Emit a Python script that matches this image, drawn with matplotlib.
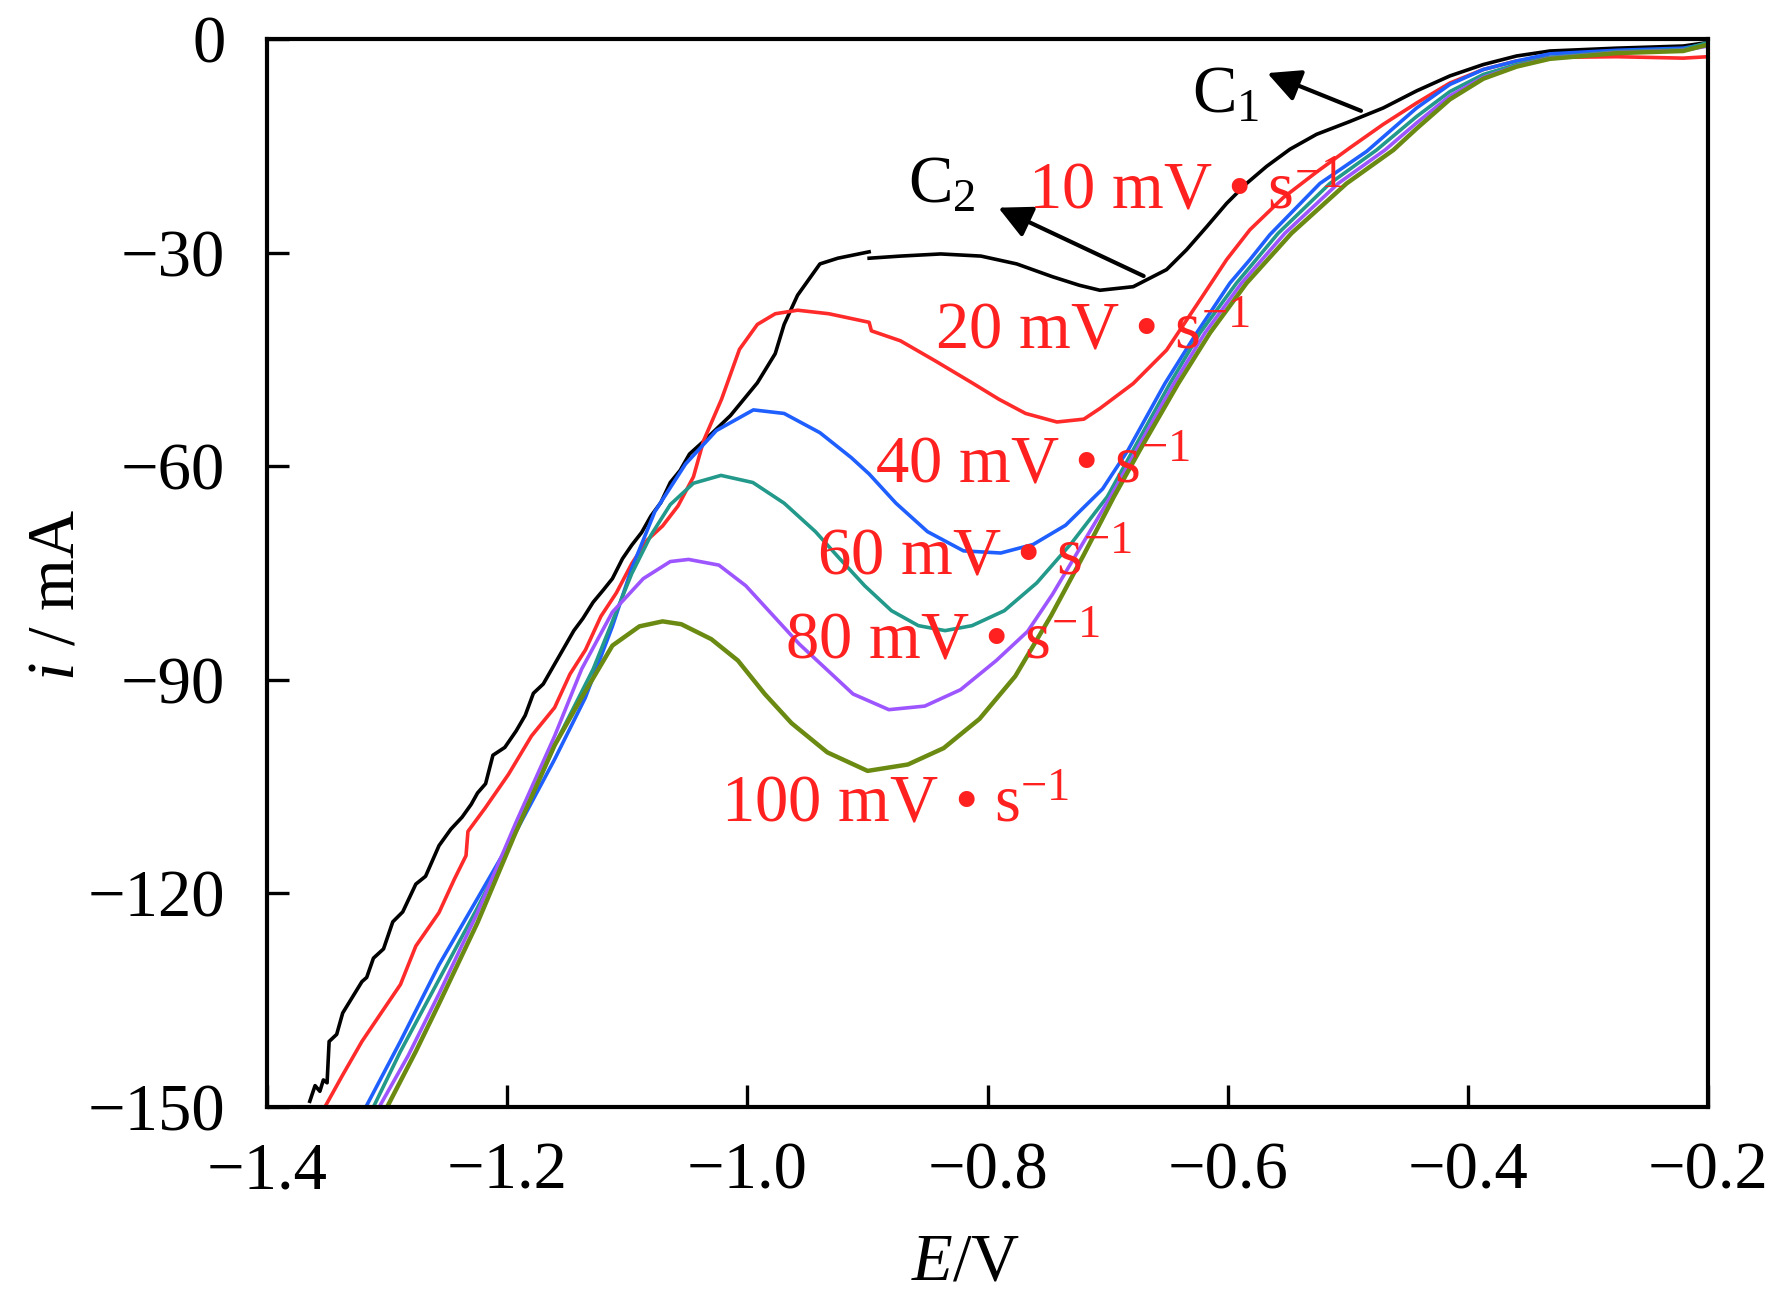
import matplotlib
matplotlib.use("Agg")
import matplotlib.pyplot as plt

plt.rcParams['font.family'] = ['Liberation Serif', 'DejaVu Serif']
plt.rcParams['mathtext.fontset'] = 'custom'
plt.rcParams['mathtext.rm'] = 'Liberation Serif'
plt.rcParams['mathtext.it'] = 'Liberation Serif:italic'
plt.rcParams['mathtext.bf'] = 'Liberation Serif:bold'

# ---------------- data ----------------
# 10 mV/s (black), drawn in two pieces (small break in the record)
E_10a = [-1.3644, -1.3600, -1.3560, -1.3531, -1.3500, -1.3483, -1.3420, -1.3370, -1.3290,
         -1.3210, -1.3170, -1.3114, -1.3030, -1.2953, -1.2870, -1.2761, -1.2680, -1.2568,
         -1.2470, -1.2376, -1.2300, -1.2247, -1.2180, -1.2119, -1.2020, -1.1926, -1.1850,
         -1.1782, -1.1700, -1.1605, -1.1530, -1.1445, -1.1370, -1.1284, -1.1200, -1.1124,
         -1.1040, -1.0963, -1.0880, -1.0803, -1.0720, -1.0642, -1.0560, -1.0482, -1.0364,
         -1.0141, -0.9917, -0.9768, -0.9694, -0.9582, -0.9396, -0.9247, -0.8986]
i_10a = [-149.2, -147.0, -147.8, -146.2, -146.6, -140.8, -139.8, -136.8, -134.6,
         -132.4, -131.8, -129.1, -127.8, -124.0, -122.6, -118.7, -117.6, -113.3,
         -111.0, -109.3, -107.5, -105.9, -104.6, -100.6, -99.5, -97.2, -95.0,
         -91.9, -90.6, -87.8, -85.6, -83.1, -81.4, -79.1, -77.4, -75.8,
         -73.0, -71.1, -69.3, -67.0, -65.1, -62.3, -60.6, -58.3, -56.5,
         -52.9, -48.3, -44.2, -40.1, -36.0, -31.6, -30.8, -29.9]
E_10b = [-0.8986, -0.8725, -0.8390, -0.8055, -0.7757, -0.7459, -0.7235, -0.7064, -0.6787,
         -0.6509, -0.6342, -0.6176, -0.6009, -0.5843, -0.5676, -0.5482, -0.5260, -0.4983,
         -0.4705, -0.4427, -0.4150, -0.3872, -0.3595, -0.3317, -0.2762, -0.2207, -0.2000]
i_10b = [-30.8, -30.5, -30.2, -30.5, -31.6, -33.4, -34.6, -35.3, -34.8,
         -32.4, -29.6, -26.4, -23.1, -20.3, -17.9, -15.5, -13.4, -11.6,
         -9.7, -7.3, -5.2, -3.6, -2.4, -1.7, -1.3, -1.0, -0.5]

# 20 mV/s (red)
E_20 = [-1.3515, -1.3370, -1.3210, -1.3050, -1.2889, -1.2761, -1.2568, -1.2440, -1.2343,
        -1.2327, -1.2183, -1.1990, -1.1798, -1.1605, -1.1477, -1.1348, -1.1220, -1.1091,
        -1.0963, -1.0835, -1.0706, -1.0578, -1.0449, -1.0364, -1.0215, -1.0066, -0.9917,
        -0.9768, -0.9582, -0.9321, -0.8986, -0.8967, -0.8725, -0.8427, -0.8129, -0.7906,
        -0.7683, -0.7422, -0.7198, -0.7064, -0.6787, -0.6509, -0.6232, -0.6009, -0.5815,
        -0.5538, -0.5260, -0.4983, -0.4705, -0.4427, -0.4150, -0.3872, -0.3595, -0.3317,
        -0.2762, -0.2207, -0.2000]
i_20 = [-149.9, -145.5, -140.8, -136.8, -132.8, -127.4, -122.7, -118.0, -114.7,
        -111.3, -108.0, -103.3, -97.9, -93.9, -89.2, -85.8, -81.1, -77.8,
        -73.7, -70.4, -68.4, -65.6, -61.5, -56.4, -50.6, -43.6, -40.1,
        -38.6, -38.1, -38.6, -39.8, -41.0, -42.4, -45.3, -48.3, -50.6,
        -52.6, -53.8, -53.4, -51.9, -48.4, -43.7, -36.7, -31.0, -26.8,
        -22.3, -18.7, -15.3, -12.0, -9.0, -6.2, -4.3, -3.1, -2.6,
        -2.5, -2.7, -2.5]

# 40 mV/s (blue)
E_40 = [-1.3177, -1.2890, -1.2570, -1.2247, -1.1926, -1.1606, -1.1349, -1.1124, -1.0964,
        -1.0771, -1.0515, -1.0258, -0.9950, -0.9694, -0.9396, -0.9135, -0.8986, -0.8763,
        -0.8500, -0.8200, -0.7890, -0.7620, -0.7350, -0.7042, -0.6828, -0.6523, -0.6259,
        -0.5982, -0.5815, -0.5649, -0.5232, -0.4843, -0.4427, -0.4150, -0.3872, -0.3595,
        -0.3317, -0.2762, -0.2207, -0.2000]
i_40 = [-150.0, -140.8, -130.1, -120.7, -111.3, -101.2, -92.5, -82.5, -74.4,
        -66.4, -59.7, -55.0, -52.1, -52.6, -55.3, -58.8, -61.1, -65.2,
        -69.2, -71.9, -72.2, -71.0, -68.3, -63.2, -57.7, -48.4, -41.3,
        -34.3, -31.0, -27.5, -20.3, -15.8, -9.7, -6.4, -4.3, -3.1,
        -2.1, -1.6, -1.3, -0.7]

# 60 mV/s (teal)
E_60 = [-1.3114, -1.2889, -1.2568, -1.2247, -1.1926, -1.1605, -1.1284, -1.1124, -1.0963,
        -1.0803, -1.0642, -1.0449, -1.0220, -0.9954, -0.9694, -0.9433, -0.9247, -0.9023,
        -0.8800, -0.8576, -0.8353, -0.8129, -0.7860, -0.7590, -0.7300, -0.7003, -0.6786,
        -0.6481, -0.6231, -0.5927, -0.5580, -0.5149, -0.4760, -0.4427, -0.4150, -0.3872,
        -0.3595, -0.3317, -0.2762, -0.2207, -0.2000]
i_60 = [-150.0, -142.2, -132.1, -122.0, -111.3, -99.2, -88.5, -81.8, -75.1,
        -69.7, -65.4, -62.4, -61.3, -62.3, -65.2, -69.2, -72.7, -76.8,
        -80.3, -82.4, -83.1, -82.4, -80.3, -76.4, -70.8, -64.3, -57.7,
        -48.4, -41.3, -34.3, -27.3, -20.3, -15.6, -10.9, -7.4, -5.0,
        -3.6, -2.6, -1.8, -1.5, -0.5]

# 80 mV/s (purple)
E_80 = [-1.3066, -1.2825, -1.2568, -1.2247, -1.1926, -1.1605, -1.1380, -1.1124, -1.0867,
        -1.0642, -1.0490, -1.0237, -1.0013, -0.9790, -0.9567, -0.9343, -0.9120, -0.8822,
        -0.8523, -0.8225, -0.7927, -0.7666, -0.7459, -0.6976, -0.6758, -0.6448, -0.6190,
        -0.5885, -0.5524, -0.5080, -0.4690, -0.4427, -0.4150, -0.3872, -0.3595, -0.3317,
        -0.2762, -0.2207, -0.2000]
i_80 = [-150.0, -142.8, -134.1, -122.7, -110.0, -97.9, -88.5, -80.5, -75.8,
        -73.4, -73.1, -73.9, -76.8, -80.9, -85.0, -88.5, -92.0, -94.2,
        -93.7, -91.4, -87.3, -83.2, -78.0, -64.3, -57.7, -48.4, -41.3,
        -34.3, -27.3, -20.3, -15.6, -11.8, -8.0, -5.4, -3.8, -2.7,
        -1.9, -1.6, -1.0]

# 100 mV/s (olive)
E_100 = [-1.3000, -1.2761, -1.2568, -1.2247, -1.1926, -1.1605, -1.1380, -1.1124, -1.0899,
         -1.0706, -1.0550, -1.0300, -1.0079, -0.9855, -0.9632, -0.9334, -0.8999, -0.8663,
         -0.8365, -0.8067, -0.7769, -0.7471, -0.7200, -0.6948, -0.6730, -0.6412, -0.6148,
         -0.5843, -0.5469, -0.5010, -0.4620, -0.4427, -0.4150, -0.3872, -0.3595, -0.3317,
         -0.2762, -0.2207, -0.2000]
i_100 = [-150.0, -142.2, -135.5, -124.1, -111.3, -99.2, -92.5, -85.2, -82.5,
         -81.8, -82.2, -84.3, -87.3, -92.0, -96.1, -100.2, -102.8, -101.9,
         -99.6, -95.5, -89.5, -81.0, -72.5, -64.3, -57.7, -48.4, -41.3,
         -34.3, -27.3, -20.3, -15.6, -12.6, -8.5, -5.6, -3.9, -2.8,
         -2.0, -1.7, -0.8]

labels = ["10 mV • s$^{-1}$", "20 mV • s$^{-1}$", "40 mV • s$^{-1}$",
          "60 mV • s$^{-1}$", "80 mV • s$^{-1}$", "100 mV • s$^{-1}$"]
label_E = [-0.766, -0.844, -0.894, -0.942, -0.969, -1.022]
label_i = [-23.8, -43.4, -62.2, -75.2, -87.0, -109.9]

x_ticks = [-1.4, -1.2, -1.0, -0.8, -0.6, -0.4, -0.2]
y_ticks = [0, -30, -60, -90, -120, -150]

# ---------------- figure ----------------
fig = plt.figure(figsize=(17.72, 12.97), dpi=100)
ax = fig.add_axes([0.1507, 0.1465, 0.8132, 0.8235])

lw = 2.6
ax.plot(E_10a, i_10a, color='black', lw=lw)
ax.plot(E_10b, i_10b, color='black', lw=lw)
ax.plot(E_20, i_20, color='#ff2a2a', lw=lw)
ax.plot(E_40, i_40, color='#1f5fff', lw=lw)
ax.plot(E_60, i_60, color='#22998a', lw=lw)
ax.plot(E_80, i_80, color='#9d55ff', lw=lw)
ax.plot(E_100, i_100, color='#6a8a12', lw=3.2)

for t, x, y in zip(labels, label_E, label_i):
    ax.text(x, y, t, color='#ff2020', fontsize=48, ha='left', va='baseline')

ax.text(-0.630, -10.3, "C$_1$", color='black', fontsize=48, ha='left', va='baseline')
ax.text(-0.866, -23.0, "C$_2$", color='black', fontsize=48, ha='left', va='baseline')

arrow = dict(arrowstyle='-|>', color='black', lw=3, mutation_scale=50,
             shrinkA=0, shrinkB=0)
ax.annotate("", xy=(-0.567, -4.8), xytext=(-0.489, -10.1), arrowprops=arrow)
ax.annotate("", xy=(-0.791, -23.7), xytext=(-0.670, -33.3), arrowprops=arrow)

ax.set_xlim(-1.4, -0.2)
ax.set_ylim(-150, 0)
ax.set_xticks(x_ticks)
ax.set_yticks(y_ticks)
ax.set_xticklabels([f"{v:.1f}".replace('-', '\u2212') for v in x_ticks])
ax.set_yticklabels([f"{v}".replace('-', '\u2212') for v in y_ticks])

for s in ax.spines.values():
    s.set_linewidth(3)
ax.tick_params(axis='both', direction='in', length=16, width=2.4, labelsize=48)
ax.tick_params(axis='x', pad=25)
ax.tick_params(axis='y', pad=30)

ax.set_xlabel("$E$/V", fontsize=48)
ax.set_ylabel("$i$ / mA", fontsize=48)
ax.xaxis.set_label_coords(0.485, -0.146)
ax.xaxis.label.set_va('center')
ax.yaxis.set_label_coords(-0.146, 0.479)
ax.yaxis.label.set_va('center')

fig.savefig("out.png", dpi=100)
